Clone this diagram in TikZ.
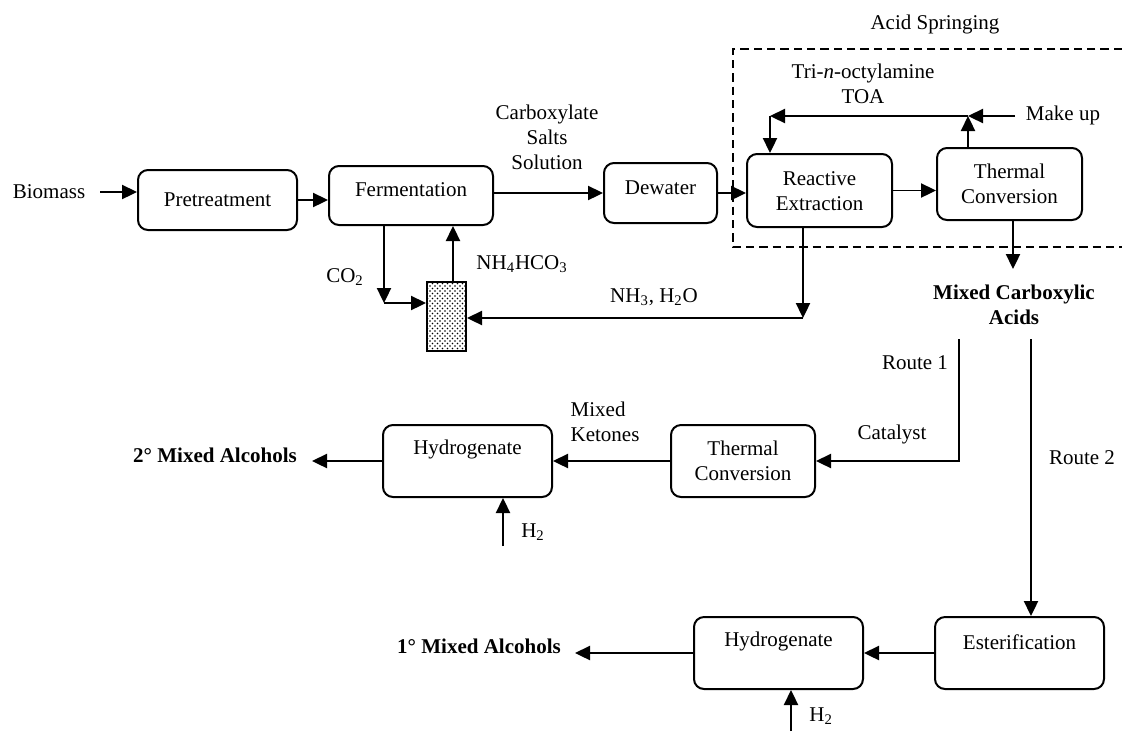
\documentclass[tikz,border=0pt]{standalone}
\usepackage{fontspec}
\setmainfont{Liberation Serif}
\usetikzlibrary{arrows.meta,patterns}
\tikzset{
  box/.style={draw, line width=1.2pt, rounded corners=6pt, inner sep=0pt},
  txt/.style={font=\fontsize{12.6pt}{15pt}\selectfont, inner sep=2pt, align=center},
  btxt/.style={font=\fontsize{12.6pt}{15pt}\selectfont\bfseries, inner sep=2pt, align=center},
  arr/.style={draw, line width=1pt, -{Triangle[length=9pt,width=8.5pt]}},
  dashbox/.style={draw, line width=1pt, dash pattern=on 5pt off 3pt}
}
\begin{document}
\begin{tikzpicture}[x=0.6pt,y=-0.6pt]
\useasboundingbox (0,0) rectangle (1122,731);

% boxes
\node[box, minimum width=95.4pt, minimum height=36pt] (pre) at (217.5,200) {};
\node[txt] (pret) at (217.5,200) {Pretreatment};
\node[box, minimum width=98.4pt, minimum height=35.4pt] (fer) at (411,195.5) {};
\node[txt] (fert) at (411,190) {Fermentation};
\node[box, minimum width=67.8pt, minimum height=36pt] (dew) at (660.5,193) {};
\node[txt] (dewt) at (660.5,188) {Dewater};
\node[box, minimum width=87pt, minimum height=43.8pt] (re) at (819.5,190.5) {};
\node[txt] (ret) at (819.5,191.5) {Reactive\\Extraction};
\node[box, minimum width=87pt, minimum height=43.2pt] (tca) at (1009.5,184) {};
\node[txt] (tcat) at (1009.5,183.5) {Thermal\\Conversion};
\node[draw, line width=1.2pt, pattern=crosshatch dots, minimum width=23.4pt, minimum height=41.4pt, inner sep=0pt] (hat) at (446.5,316.5) {};
\node[box, minimum width=86.4pt, minimum height=43.2pt] (tcb) at (743,461) {};
\node[txt] (tcbt) at (743,460.5) {Thermal\\Conversion};
\node[box, minimum width=101.4pt, minimum height=43.2pt] (hya) at (467.5,461) {};
\node[txt] (hyat) at (467.5,449) {Hydrogenate};
\node[box, minimum width=101.4pt, minimum height=43.2pt] (est) at (1019.5,653) {};
\node[txt] (estt) at (1019.5,642) {Esterification};
\node[box, minimum width=101.4pt, minimum height=43.2pt] (hyb) at (778.5,653) {};
\node[txt] (hybt) at (778.5,641) {Hydrogenate};

% dashed acid springing region
\draw[dashbox] (1122,49) -- (733,49) -- (733,247) -- (1122,247);
\node[txt] (acid) at (935,24) {Acid Springing};

% labels
\node[txt] (bio) at (49,192) {Biomass};
\node[txt] (carb) at (547,137) {Carboxylate\\Salts\\Solution};
\node[txt] (nh4) at (522,264) {NH\textsubscript{4}HCO\textsubscript{3}};
\node[txt] (co2) at (345,277) {CO\textsubscript{2}};
\node[txt] (nh3) at (654,297) {NH\textsubscript{3}, H\textsubscript{2}O};
\node[txt] (toa) at (863,83.5) {Tri-\textit{n}-octylamine\\TOA};
\node[txt] (mk) at (1063,115) {Make up};
\node[btxt] (mca) at (1014,305) {Mixed Carboxylic\\Acids};
\node[txt] (r1t) at (915,363) {Route 1};
\node[txt] (cat) at (892,434) {Catalyst};
\node[txt] (r2t) at (1082,458) {Route 2};
\node[txt, align=left, anchor=west] (mkt) at (567,422) {Mixed\\Ketones};
\node[btxt] (alc2) at (215,455) {2° Mixed Alcohols};
\node[txt] (h2a) at (533,532) {H\textsubscript{2}};
\node[btxt] (alc1) at (479,646) {1° Mixed Alcohols};
\node[txt] (h2b) at (821,716) {H\textsubscript{2}};

% coordinates
\coordinate (rj) at (968,116);
\coordinate (rl) at (770,116);
\coordinate (nj) at (803,318);
\coordinate (cj) at (384,303);
\coordinate (hx) at (453,0);
\coordinate (mtip) at (1013,269);
\coordinate (r1) at (959,339);
\coordinate (r2) at (1031,339);
\coordinate (h1) at (503,546);
\coordinate (h2) at (791,731);
\coordinate (a2tip) at (312,0);
\coordinate (a1tip) at (575,0);
\coordinate (biost) at (100,192);
\coordinate (mkst) at (1015,116);

% connectors
\draw[arr] (biost) -- (biost -| pre.west);
\draw[arr] (pre.east) -- (pre.east -| fer.west);
\draw[arr] (dew.west -| fer.east) -- (dew.west);
\draw[arr] (dew.east) -- (dew.east -| re.west);
\draw[arr] (re.east) -- (re.east -| tca.west);
\draw[arr] (tca.north -| rj) -- (rj);
\draw[arr] (mkst) -- (rj);
\draw[arr] (rj) -- (rl);
\draw[arr] (rl) -- (rl |- re.north);
\draw[arr] (re.south -| nj) -- (nj);
\draw[arr] (nj) -- (nj -| hat.east);
\draw[arr] (fer.south -| cj) -- (cj);
\draw[arr] (cj) -- (cj -| hat.west);
\draw[arr] (hat.north -| hx) -- (fer.south -| hx);
\draw[arr] (tca.south -| mtip) -- (mtip);
\draw[arr] (r1) |- (tcb.east);
\draw[arr] (r2) -- (r2 |- est.north);
\draw[arr] (tcb.west) -- (tcb.west -| hya.east);
\draw[arr] (hya.west) -- (hya.west -| a2tip);
\draw[arr] (h1) -- (h1 |- hya.south);
\draw[arr] (est.west) -- (est.west -| hyb.east);
\draw[arr] (hyb.west) -- (hyb.west -| a1tip);
\draw[arr] (h2) -- (h2 |- hyb.south);
\end{tikzpicture}
\end{document}
